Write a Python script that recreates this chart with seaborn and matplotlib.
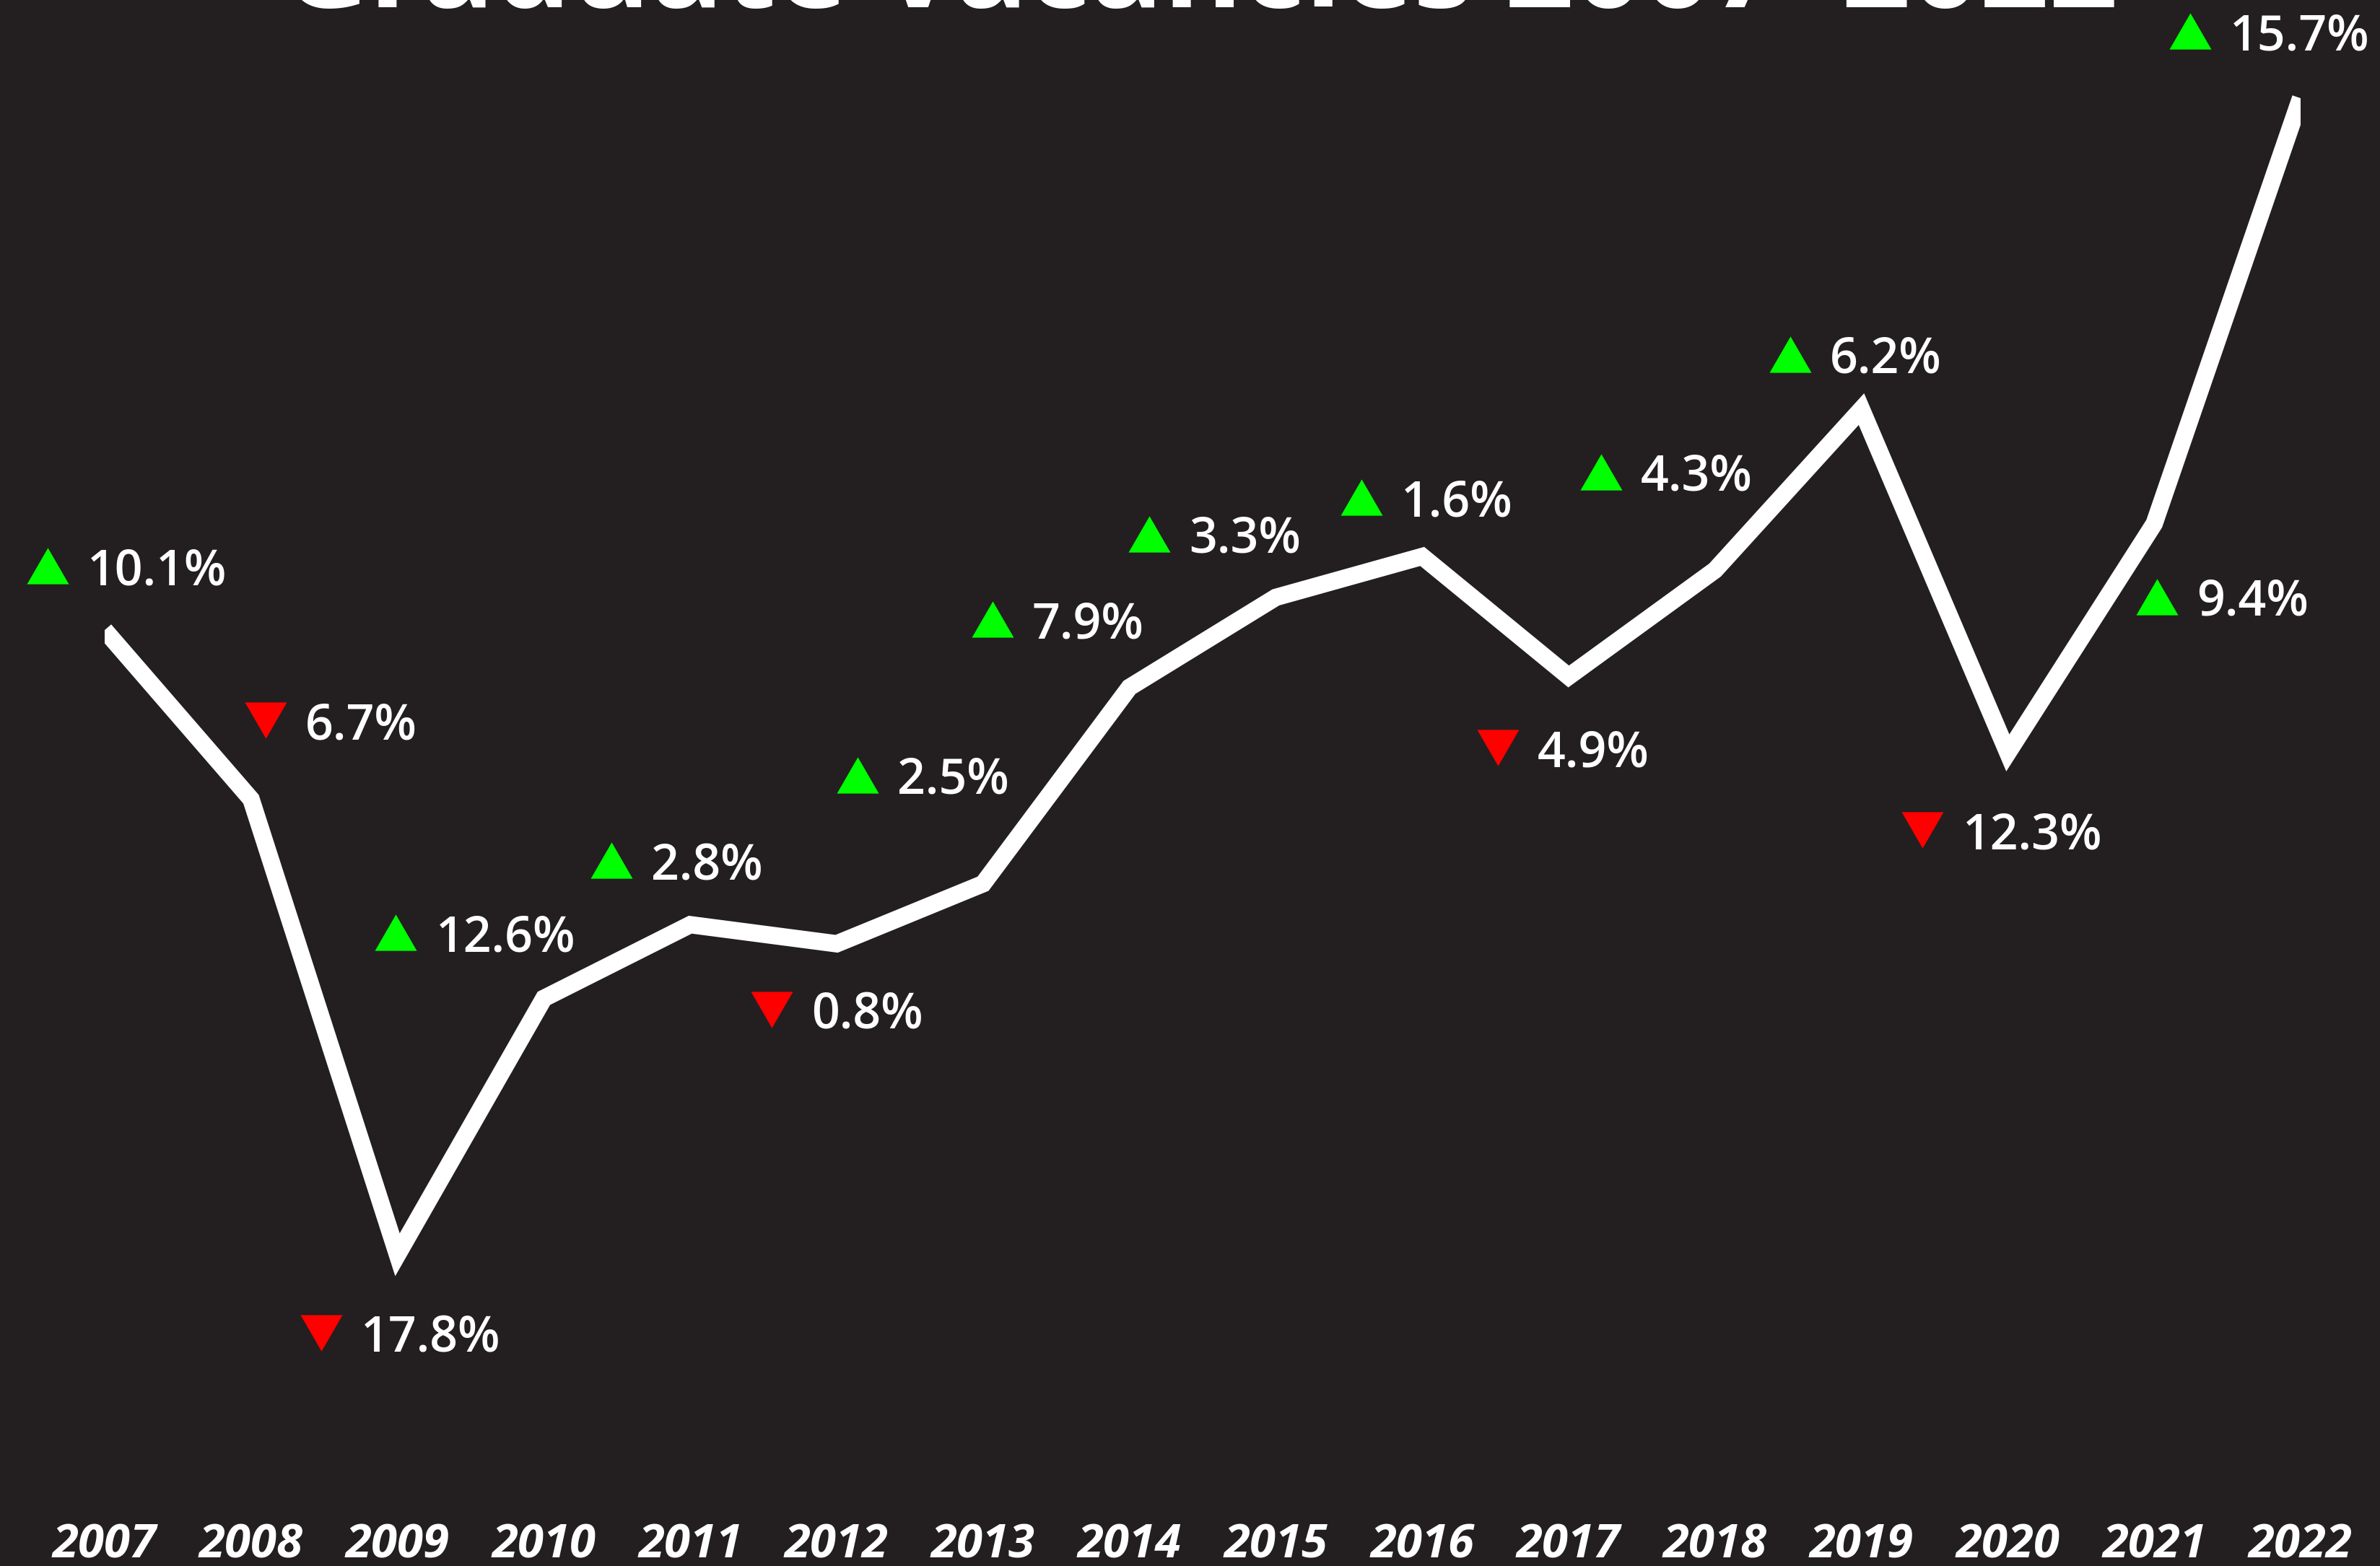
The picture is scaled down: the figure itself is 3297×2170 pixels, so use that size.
import matplotlib
matplotlib.use("Agg")
import matplotlib.pyplot as plt
import matplotlib.transforms as mtransforms
import seaborn as sns
import pandas as pd


# --- DATA ---
TITLE = "Graduate Vacancies 2007–2022"
YEARS = [2007, 2008, 2009, 2010, 2011, 2012, 2013, 2014,
         2015, 2016, 2017, 2018, 2019, 2020, 2021, 2022]
# vacancy index (2007 = 100)
VACANCY_INDEX = [100.0, 93.8, 77.1, 86.5, 89.2, 88.5, 90.7, 97.9,
                 101.2, 102.7, 98.3, 102.2, 108.1, 95.5, 103.9, 119.5]
# year-on-year change (%)
PCT_CHANGE = [10.1, -6.7, -17.8, 12.6, 2.8, -0.8, 2.5, 7.9,
              3.3, 1.6, -4.9, 4.3, 6.2, -12.3, 9.4, 15.7]

# --- LAYOUT (pixel offsets of the arrow from each point) ---
LABEL_DX = [-79, 20, -106, -205, -109, -90, -174, -190,
            -175, -84, -98, -158, -99, -118, 4, -153]
LABEL_DY = [89, 109, -108, 91, 89, -91, 151, 94,
            88, 82, -99, 136, 76, -107, -101, 93]

BG = "#231f20"
UP_COLOR = "#00ff00"
DOWN_COLOR = "#ff0000"
W, H, DPI = 3297, 2170, 100

df = pd.DataFrame({"year": YEARS, "value": VACANCY_INDEX, "change": PCT_CHANGE})

sns.set_theme(style="dark")
plt.rcParams["font.family"] = ["Open Sans", "DejaVu Sans"]

fig = plt.figure(figsize=(W / DPI, H / DPI), dpi=DPI, facecolor=BG)
ax = fig.add_axes([145 / W, 90 / H, (3187 - 145) / W, (H - 90) / H])
ax.set_facecolor(BG)

sns.lineplot(data=df, x="year", y="value", ax=ax, color="white",
             linewidth=17.3, solid_joinstyle="miter", solid_capstyle="butt")

ax.set_xlim(2007, 2022)
ax.set_ylim(68.07, 123.10)

# --- arrows and labels ---
up_marker = [(-1, -0.866), (1, -0.866), (0, 0.866)]
down_marker = [(-1, 0.866), (1, 0.866), (0, -0.866)]

for year, val, chg, dx, dy in zip(YEARS, VACANCY_INDEX, PCT_CHANGE, LABEL_DX, LABEL_DY):
    shift = mtransforms.ScaledTranslation(dx / DPI, dy / DPI, fig.dpi_scale_trans)
    ax.plot([year], [val], linestyle="none",
            marker=up_marker if chg > 0 else down_marker,
            markersize=41.8, markeredgewidth=0,
            color=UP_COLOR if chg > 0 else DOWN_COLOR,
            transform=ax.transData + shift, clip_on=False)
    ax.annotate(f"{abs(chg):.1f}%", xy=(year, val),
                xytext=(dx + 55, dy - 26), textcoords="offset pixels",
                ha="left", va="baseline", color="white",
                fontsize=49, fontweight="semibold", annotation_clip=False)

# --- axes styling ---
ax.set_xticks(YEARS)
ax.set_xticklabels([str(y) for y in YEARS], fontsize=47, fontweight="bold",
                   fontstyle="italic", color="white")
ax.tick_params(axis="x", length=0, pad=21)
ax.set_yticks([])
ax.set_xlabel("")
ax.set_ylabel("")
ax.grid(False)
for s in ax.spines.values():
    s.set_visible(False)

# --- title, mostly cut off at the top ---
title = fig.text(390 / W, 1 - 10 / H, TITLE, fontsize=100, fontweight="bold",
                 color="white", ha="left", va="baseline")
fig.canvas.draw()
tw = title.get_window_extent().width
title.set_fontsize(100 * 2543 / tw)

fig.savefig("out.png", dpi=DPI, facecolor=BG)
